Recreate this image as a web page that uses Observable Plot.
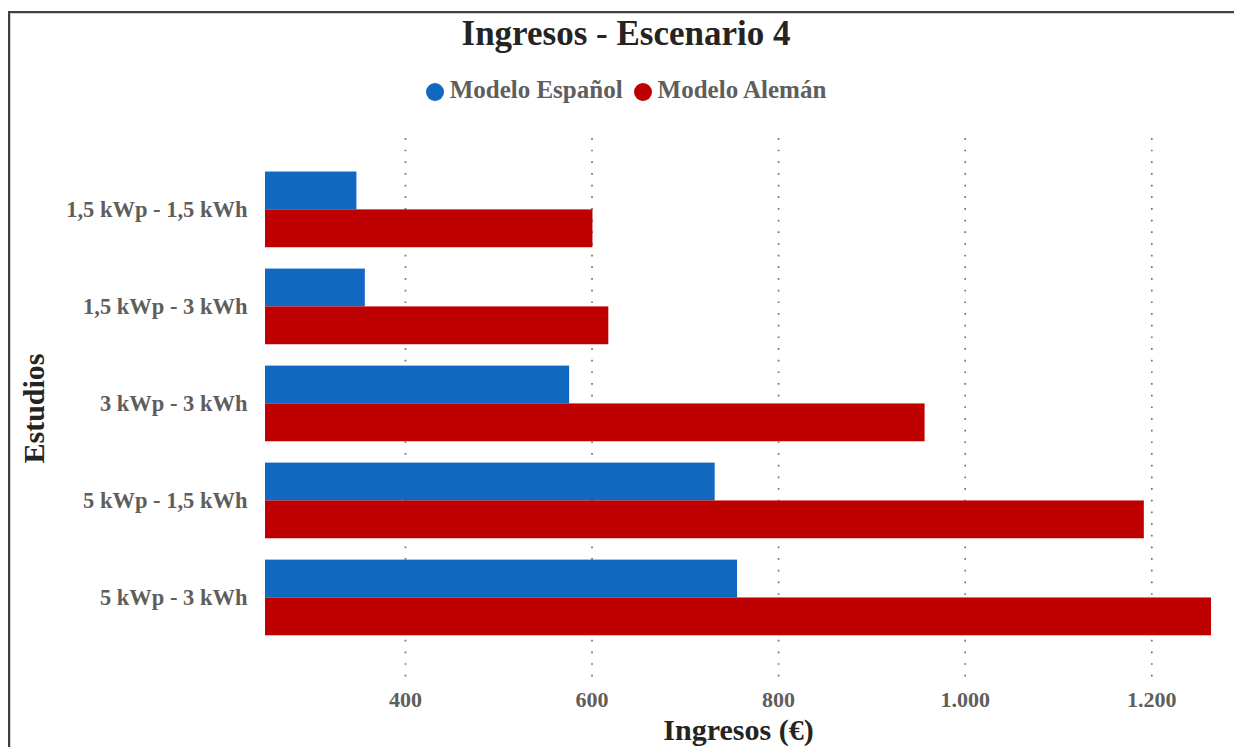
<!DOCTYPE html>
<html>
<head>
<meta charset="utf-8">
<script src="https://cdn.jsdelivr.net/npm/d3@7"></script>
<script src="https://cdn.jsdelivr.net/npm/@observablehq/plot@0.6"></script>
<style>
  html, body { margin: 0; padding: 0; background: #fff; }
  body {
    width: 1234px; height: 747px; overflow: hidden; position: relative;
    font-family: "Liberation Serif", "Times New Roman", serif; font-weight: bold;
  }
  #frame {
    position: absolute; left: 8px; top: 11px; width: 1400px; height: 900px;
    border-left: 2px solid #404040; border-top: 2px solid #404040;
    box-shadow: inset 1px 1px 0 #d0d0d0;
  }
  #header { position: relative; height: 120px; }
  #title {
    position: absolute; left: 10px; width: 1232px; top: 16px;
    text-align: center; font-size: 35px; line-height: 35px; color: #252423;
  }
  #legend {
    position: absolute; left: 10px; width: 1232px; top: 77px;
    display: flex; justify-content: center;
    font-size: 25px; line-height: 25px; color: #605e5c;
  }
  .item { display: flex; align-items: center; }
  .item + .item { margin-left: 11px; }
  .swatch { width: 18px; height: 18px; border-radius: 50%; margin-right: 6px; position: relative; top: 2px; }
  #chart { position: relative; }
  #chart svg [aria-label="x-axis label"] text,
  #chart svg [aria-label="y-axis label"] text { font-size: 30px; fill: #252423; }
</style>
</head>
<body>
<div id="frame"></div>
<div id="header">
  <div id="title">Ingresos - Escenario 4</div>
  <div id="legend"></div>
</div>
<div id="chart"></div>
<script>
// Studies (installed PV power - battery capacity) and yearly income in euros
const studies = ["1,5 kWp - 1,5 kWh", "1,5 kWp - 3 kWh", "3 kWp - 3 kWh", "5 kWp - 1,5 kWh", "5 kWp - 3 kWh"];
const spanishModel = [348, 357, 576, 732, 756];
const germanModel = [601, 618, 957, 1192, 1264];
const seriesNames = ["Modelo Español", "Modelo Alemán"];
const seriesColors = ["#1068c1", "#be0000"];
const xTicks = [400, 600, 800, 1000, 1200];
const xStart = 250;

const rows = studies.map((study, i) => ({study, spanish: spanishModel[i], german: germanModel[i]}));

// Legend
const legend = document.getElementById("legend");
seriesNames.forEach((name, i) => {
  const item = document.createElement("div");
  item.className = "item";
  const sw = document.createElement("span");
  sw.className = "swatch";
  sw.style.background = seriesColors[i];
  item.appendChild(sw);
  item.appendChild(document.createTextNode(name));
  legend.appendChild(item);
});

const width = 1234, height = 627;
const marginTop = 18, marginBottom = 69, marginLeft = 265, marginRight = 23;
const yPad = {paddingInner: 0.22, paddingOuter: 0.393, align: 0.44};

// Each study band holds two stacked halves: Spanish model on top, German below
const bandwidth = d3.scaleBand()
  .domain(studies)
  .range([marginTop, height - marginBottom])
  .paddingInner(yPad.paddingInner)
  .paddingOuter(yPad.paddingOuter)
  .align(yPad.align)
  .bandwidth();

const es = d3.formatLocale({decimal: ",", thousands: ".", grouping: [3], currency: ["", " €"]});
const fmt = es.format(",d");

const chart = Plot.plot({
  width, height, marginTop, marginBottom, marginLeft, marginRight,
  style: {
    fontFamily: '"Liberation Serif", "Times New Roman", serif',
    fontWeight: "bold",
    background: "transparent",
    overflow: "visible"
  },
  x: {domain: [xStart, d3.max(germanModel)]},
  y: {domain: studies, ...yPad, round: false},
  marks: [
    Plot.ruleX(xTicks, {stroke: "#707070", strokeWidth: 1.7, strokeDasharray: "1.7,9.97"}),
    Plot.barX(rows, {y: "study", x1: xStart, x2: "spanish", fill: seriesColors[0], insetBottom: bandwidth / 2}),
    Plot.barX(rows, {y: "study", x1: xStart, x2: "german", fill: seriesColors[1], insetTop: bandwidth / 2}),
    Plot.axisX({
      ticks: xTicks, tickSize: 0, tickPadding: 13, tickFormat: fmt,
      fontSize: 22, fill: "#605e5c",
      label: "Ingresos (€)", labelAnchor: "center", labelArrow: "none", labelOffset: 61
    }),
    Plot.axisY({
      tickSize: 0, tickPadding: 18, fontSize: 22.5, fill: "#605e5c",
      label: "Estudios", labelAnchor: "center", labelArrow: "none", labelOffset: 243
    })
  ]
});
document.getElementById("chart").appendChild(chart);
</script>
</body>
</html>
